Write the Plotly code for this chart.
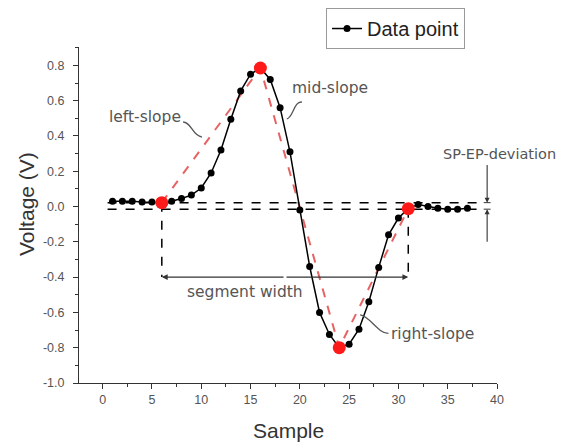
import plotly.graph_objects as go

# ---------------- data ----------------
sample = list(range(1, 38))
voltage = [0.03, 0.03, 0.03, 0.025, 0.025, 0.022, 0.03, 0.045, 0.065, 0.105,
           0.19, 0.32, 0.495, 0.655, 0.75, 0.785, 0.72, 0.56, 0.31, -0.02,
           -0.34, -0.60, -0.725, -0.80, -0.78, -0.695, -0.54, -0.345, -0.16, -0.065,
           -0.012, 0.012, 0.0, -0.01, -0.015, -0.015, -0.01]

key_x = [6, 16, 24, 31]
key_y = [0.022, 0.785, -0.80, -0.012]

hline_y = [0.022, -0.015]
hline_x = [0.5, 38.6]
seg_y = -0.40
dev_x = 39.0
dev_top = 0.244
dev_bot = -0.208

x_ticks = [0, 5, 10, 15, 20, 25, 30, 35, 40]
y_ticks = [-1.0, -0.8, -0.6, -0.4, -0.2, 0.0, 0.2, 0.4, 0.6, 0.8]
y_ticktext = ["-1.0", "-0.8", "-0.6", "-0.4", "-0.2", "0.0", "0.2", "0.4", "0.6", "0.8"]

FONT = "Arial, Liberation Sans, sans-serif"
ANN_FONT = "DejaVu Sans, sans-serif"
ANN_COLOR = "#555555"

fig = go.Figure()

# horizontal dashed reference lines (SP and EP level)
for hy in hline_y:
    fig.add_trace(go.Scatter(x=hline_x, y=[hy, hy], mode="lines",
                             line=dict(color="black", width=1.5, dash="dash"),
                             showlegend=False, hoverinfo="skip"))

# vertical dashed drop lines from SP and EP
for kx, ky in [(key_x[0], key_y[0]), (key_x[3], key_y[3])]:
    fig.add_trace(go.Scatter(x=[kx, kx], y=[ky, seg_y], mode="lines",
                             line=dict(color="black", width=1.5, dash="dash"),
                             showlegend=False, hoverinfo="skip"))

# red dashed slopes
fig.add_trace(go.Scatter(x=key_x, y=key_y, mode="lines",
                         line=dict(color="rgba(225,60,60,0.8)", width=2, dash="dash"),
                         showlegend=False, hoverinfo="skip"))

# data
fig.add_trace(go.Scatter(x=sample, y=voltage, mode="lines+markers", name="Data point",
                         line=dict(color="black", width=1.5),
                         marker=dict(color="black", size=7)))

# red key points
fig.add_trace(go.Scatter(x=key_x, y=key_y, mode="markers",
                         marker=dict(color="#ff1a1a", size=13),
                         showlegend=False, hoverinfo="skip"))

annotations = []
# segment width arrows (double headed)
mid = (key_x[0] + key_x[3]) / 2
for end in (key_x[0], key_x[3]):
    annotations.append(dict(x=end, y=seg_y, ax=mid, ay=seg_y, xref="x", yref="y",
                            axref="x", ayref="y", showarrow=True, arrowhead=2,
                            arrowsize=0.9, arrowwidth=1.3, arrowcolor="#333333", text=""))
# SP-EP deviation arrows
annotations.append(dict(x=dev_x, y=hline_y[0], ax=dev_x, ay=dev_top, xref="x", yref="y",
                        axref="x", ayref="y", showarrow=True, arrowhead=2,
                        arrowsize=0.9, arrowwidth=1.1, arrowcolor="#333333", text=""))
annotations.append(dict(x=dev_x, y=hline_y[1], ax=dev_x, ay=dev_bot, xref="x", yref="y",
                        axref="x", ayref="y", showarrow=True, arrowhead=2,
                        arrowsize=0.9, arrowwidth=1.1, arrowcolor="#333333", text=""))

# labels
labels = [
    ("left-slope", 4.3, 0.51),
    ("mid-slope", 23.1, 0.67),
    ("right-slope", 33.5, -0.723),
    ("segment width", 14.4, -0.485),
]
for t, lx, ly in labels:
    annotations.append(dict(x=lx, y=ly, xref="x", yref="y", text=t, showarrow=False,
                            xanchor="center", yanchor="middle",
                            font=dict(family=ANN_FONT, size=15.5, color=ANN_COLOR)))
# label that sits beyond the right end of the x axis
annotations.append(dict(x=1.005, y=0.30, xref="paper", yref="y", text="SP-EP-deviation",
                        showarrow=False, xanchor="center", yanchor="middle",
                        font=dict(family=ANN_FONT, size=14.5, color=ANN_COLOR)))

# axis titles
annotations.append(dict(x=-0.124, y=0.533, xref="paper", yref="paper", text="Voltage (V)",
                        textangle=-90, showarrow=False, xanchor="center", yanchor="middle",
                        font=dict(family=FONT, size=21, color="#333333")))
annotations.append(dict(x=0.5, y=-0.14, xref="paper", yref="paper", text="Sample",
                        showarrow=False, xanchor="center", yanchor="middle",
                        font=dict(family=FONT, size=21, color="#333333")))

shapes = [
    dict(type="path", xref="x", yref="y",
         path="M 8.16,0.479 C 9.0,0.48 9.1,0.40 10.06,0.394",
         line=dict(color="#555555", width=1.3)),
    dict(type="path", xref="x", yref="y",
         path="M 20.22,0.592 C 19.4,0.60 19.3,0.50 18.68,0.497",
         line=dict(color="#555555", width=1.3)),
    dict(type="path", xref="x", yref="y",
         path="M 28.99,-0.719 C 27.9,-0.72 27.1,-0.62 26.12,-0.614",
         line=dict(color="#555555", width=1.3)),
    # small ticks on the deviation line
    dict(type="line", xref="x", yref="y", x0=dev_x - 0.35, x1=dev_x + 0.35,
         y0=hline_y[0], y1=hline_y[0], line=dict(color="#333333", width=1)),
    dict(type="line", xref="x", yref="y", x0=dev_x - 0.35, x1=dev_x + 0.35,
         y0=hline_y[1], y1=hline_y[1], line=dict(color="#333333", width=1)),
]

# figure is drawn inside the page's default 8px body margin
fig.update_layout(
    width=559, height=435,
    margin=dict(l=71, r=70, t=39, b=60, autoexpand=False),
    paper_bgcolor="white", plot_bgcolor="white",
    font=dict(family=FONT, color="#444444"),
    annotations=annotations, shapes=shapes,
    legend=dict(x=0.591, y=1.116, xanchor="left", yanchor="top",
                bordercolor="#9a9a9a", borderwidth=1, bgcolor="white",
                font=dict(family=FONT, size=20, color="#222222")),
    showlegend=True,
)
fig.update_xaxes(range=[-2.4, 40], tickvals=x_ticks, showgrid=False, zeroline=False,
                 showline=True, linecolor="#333333", linewidth=1,
                 ticks="outside", ticklen=5, tickcolor="#333333",
                 tickfont=dict(family=FONT, size=12.5, color="#555555"),
                 minor=dict(dtick=2.5, tick0=0, ticks="outside", ticklen=3, tickcolor="#333333"))
fig.update_yaxes(range=[-1.0, 0.904], tickvals=y_ticks, ticktext=y_ticktext,
                 showgrid=False, zeroline=False,
                 showline=True, linecolor="#333333", linewidth=1,
                 ticks="outside", ticklen=5, tickcolor="#333333", ticklabelstandoff=6,
                 tickfont=dict(family=FONT, size=12.5, color="#555555"),
                 minor=dict(dtick=0.1, tick0=0, ticks="outside", ticklen=3, tickcolor="#333333"))

fig.write_html("out.html")
